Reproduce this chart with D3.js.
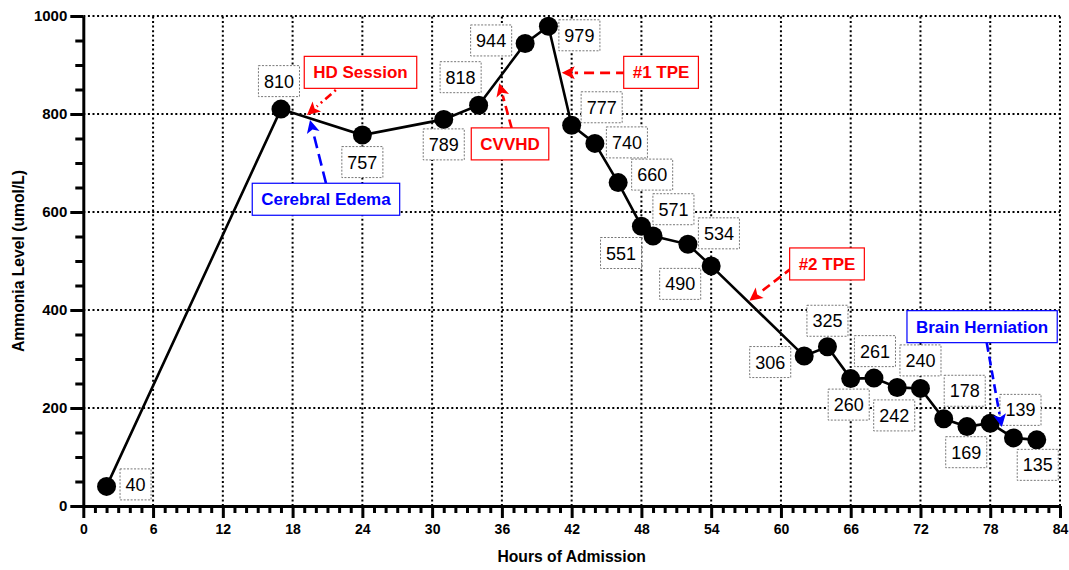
<!DOCTYPE html>
<html><head><meta charset="utf-8">
<script src="https://cdn.jsdelivr.net/npm/d3@7"></script>
<style>
body{margin:0;background:#fff;}
svg{display:block;font-family:"Liberation Sans",Arial,Helvetica,sans-serif;}
</style>
</head><body>
<svg id="c" width="1069" height="570"></svg>
<script>
// ---- data ----
const hours   = [2, 17, 24, 31, 34, 38, 40, 42, 44, 46, 48, 49, 52, 54, 62, 64, 66, 68, 70, 72, 74, 76, 78, 80, 82];
const ammonia = [40, 810, 757, 789, 818, 944, 979, 777, 740, 660, 571, 551, 534, 490, 306, 325, 260, 261, 242, 240, 178, 162, 169, 139, 135];
const valueLabels = ["40","810","757","789","818","944","979","777","740","660","571","551","534","490","306","325","260","261","242","240","178",null,"169","139","135"];
// label box offsets from point (pixels)
const labelOffsets = [[29,-2],[-2,-28],[0,27],[0,25],[-18,-28],[-34,-3],[31,9],[30,-18],[32,-1],[34,-8],[32,-17],[-32,17],[31,-11],[-31,18],[-34,6],[0,-26],[-2,26],[1,-27],[-3,28],[0,-28],[21,-28],null,[-24,29],[7,-28],[1,25]];
const xTicks = [0, 6, 12, 18, 24, 30, 36, 42, 48, 54, 60, 66, 72, 78, 84];
const yTicks = [0, 200, 400, 600, 800, 1000];
const xTitle = "Hours of Admission";
const yTitle = "Ammonia Level (umol/L)";
const annText   = ["HD Session", "Cerebral Edema", "CVVHD", "#1 TPE", "#2 TPE", "Brain Herniation"];
const annColor  = ["#ff0000", "#0000ff", "#ff0000", "#ff0000", "#ff0000", "#0000ff"];
const annCenter = [[23.84, 885], [20.87, 626], [36.7, 739], [49.69, 885], [63.96, 494], [77.3, 366]];
const annFrom   = [[22.5, 865], [20.87, 659], [36.84, 771], [46.68, 884], [60.95, 486], [77.7, 333]];
const annTo     = [[19.24, 798], [19.5, 788], [35.78, 863], [41.15, 884], [57.28, 419], [79.0, 161]];
const annDash   = ["8,4,2,4", "12,6", "9,5", "10,6", "9,5", "9,5"];

// ---- layout ----
const svg = d3.select("#c");
const x = d3.scaleLinear().domain([0, 84]).range([83.3, 1060]);
const y = d3.scaleLinear().domain([0, 1000]).range([506, 16]);

// grid
const grid = svg.append("g").attr("stroke", "#000").attr("stroke-width", 2).attr("stroke-dasharray", "2,2.6").attr("fill","none");
xTicks.filter(d => d > 0).forEach(d => {
  grid.append("line").attr("x1", x(d)).attr("x2", x(d)).attr("y1", y(0)).attr("y2", y(1000));
});
yTicks.filter(d => d > 0).forEach(d => {
  grid.append("line").attr("x1", x(0)).attr("x2", x(84)).attr("y1", y(d)).attr("y2", y(d));
});

// line
svg.append("path")
  .datum(hours.map((h, i) => [h, ammonia[i]]))
  .attr("fill", "none").attr("stroke", "#000").attr("stroke-width", 2.6)
  .attr("d", d3.line().x(d => x(d[0])).y(d => y(d[1])));

// points
svg.append("g").selectAll("circle").data(hours.map((h, i) => [h, ammonia[i]])).join("circle")
  .attr("cx", d => x(d[0])).attr("cy", d => y(d[1])).attr("r", 9.5).attr("fill", "#000");

// value labels
const lg = svg.append("g");
hours.forEach((h, i) => {
  if (!valueLabels[i]) return;
  const cx = x(h) + labelOffsets[i][0], cy = y(ammonia[i]) + labelOffsets[i][1];
  const t = lg.append("text").attr("x", cx).attr("y", cy + 6.5).attr("text-anchor", "middle")
    .attr("font-size", 18).attr("fill", "#000").text(valueLabels[i]);
  const w = t.node().getComputedTextLength() + 11, hgt = 31;
  lg.insert("rect", "text").attr("x", cx - w / 2).attr("y", cy - hgt / 2).attr("width", w).attr("height", hgt)
    .attr("fill", "#fff").attr("stroke", "#555").attr("stroke-width", 0.8).attr("stroke-dasharray", "2,1.5");
});

// annotations
const ag = svg.append("g");
annText.forEach((txt, i) => {
  const col = annColor[i];
  const fx = x(annFrom[i][0]), fy = y(annFrom[i][1]);
  const tx = x(annTo[i][0]), ty = y(annTo[i][1]);
  const ang = Math.atan2(ty - fy, tx - fx);
  const L = 13, W = 6.5;
  const bx = tx - L * Math.cos(ang), by = ty - L * Math.sin(ang);
  ag.append("line").attr("x1", fx).attr("y1", fy).attr("x2", bx).attr("y2", by)
    .attr("stroke", col).attr("stroke-width", 2.6).attr("stroke-dasharray", annDash[i]);
  const px = -Math.sin(ang), py = Math.cos(ang);
  ag.append("polygon").attr("points", [[tx, ty], [bx + px * W, by + py * W], [bx + 3 * Math.cos(ang) , by + 3 * Math.sin(ang)], [bx - px * W, by - py * W]].map(p => p.join(",")).join(" "))
    .attr("fill", col);
  const cx = x(annCenter[i][0]), cy = y(annCenter[i][1]);
  const t = ag.append("text").attr("x", cx).attr("y", cy + 6).attr("text-anchor", "middle")
    .attr("font-size", 17).attr("font-weight", "bold").attr("fill", col).text(txt);
  const w = t.node().getComputedTextLength() + 18, hgt = 32;
  ag.insert("rect", () => t.node()).attr("x", cx - w / 2).attr("y", cy - hgt / 2).attr("width", w).attr("height", hgt)
    .attr("fill", "#fff").attr("stroke", col).attr("stroke-width", 1.2);
});

// axes
const minorX = d3.range(0, 85, 1).filter(d => d % 6 !== 0);
const minorY = d3.range(0, 1001, 50).filter(d => d % 200 !== 0);
const axX = svg.append("g").attr("class", "axx").attr("transform", `translate(0,${y(0)})`)
  .call(d3.axisBottom(x).tickValues(xTicks).tickFormat(d3.format("d")).tickSize(12).tickSizeOuter(0).tickPadding(6));
svg.append("g").attr("transform", `translate(0,${y(0)})`)
  .call(d3.axisBottom(x).tickValues(minorX).tickSize(7).tickFormat("").tickSizeOuter(0))
  .select(".domain").remove();
const axY = svg.append("g").attr("class", "axy").attr("transform", `translate(${x(0)},0)`)
  .call(d3.axisLeft(y).tickValues(yTicks).tickFormat(d3.format("d")).tickSize(13).tickSizeOuter(0).tickPadding(3));
svg.append("g").attr("transform", `translate(${x(0)},0)`)
  .call(d3.axisLeft(y).tickValues(minorY).tickSize(8).tickFormat("").tickSizeOuter(0))
  .select(".domain").remove();
svg.selectAll(".domain, .tick line").attr("stroke", "#000").attr("stroke-width", 3);
svg.selectAll(".tick text").attr("font-weight", "bold").attr("fill", "#000")
  .attr("font-family", '"Liberation Sans",Arial,sans-serif');
svg.selectAll(".axx .tick text").attr("font-size", 14);
svg.selectAll(".axy .tick text").attr("font-size", 15);

// titles
svg.append("text").attr("x", (x(0) + x(84)) / 2).attr("y", 562).attr("text-anchor", "middle")
  .attr("font-size", 15.7).attr("font-weight", "bold").text(xTitle);
svg.append("text").attr("transform", `translate(24,${(y(0) + y(1000)) / 2}) rotate(-90)`).attr("text-anchor", "middle")
  .attr("font-size", 15.7).attr("font-weight", "bold").text(yTitle);
</script>
</body></html>
